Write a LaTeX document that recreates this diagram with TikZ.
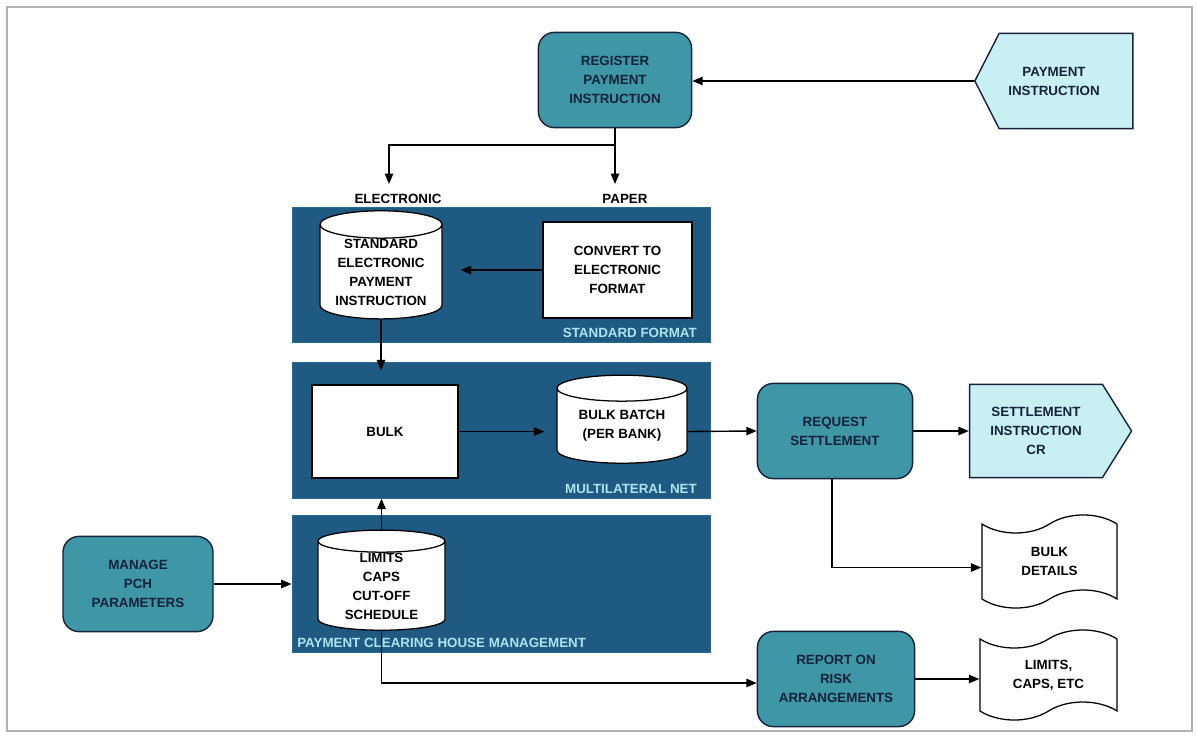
\documentclass[tikz,border=0pt]{standalone}
\usepackage{fontspec}
\setmainfont{Liberation Sans}
\usetikzlibrary{arrows.meta,positioning,calc,shapes.geometric,shapes.symbols}
\definecolor{proccolor}{RGB}{62,150,166}
\definecolor{extcolor}{RGB}{200,240,243}
\definecolor{panelcolor}{RGB}{30,90,130}
\definecolor{panellabel}{RGB}{170,228,238}
\definecolor{inkcolor}{RGB}{22,34,58}
\tikzset{
  lbl/.style={font=\bfseries\fontsize{9.5}{13.5}\selectfont, align=center, text=inkcolor},
  procbox/.style={lbl, rectangle, rounded corners=0.4cm, draw=inkcolor, line width=1pt, fill=proccolor, inner sep=0pt},
  extin/.style={lbl, signal, signal to=west, signal from=nowhere, signal pointer angle=126, draw=inkcolor, line width=1pt, fill=extcolor, inner sep=0pt},
  extout/.style={lbl, signal, signal to=east, signal from=nowhere, signal pointer angle=116, draw=inkcolor, line width=1pt, fill=extcolor, inner sep=0pt},
  panel/.style={fill=panelcolor, draw=panelcolor!70!proccolor, line width=0.6pt, inner sep=0pt},
  panelname/.style={font=\bfseries\fontsize{9.5}{11}\selectfont, text=panellabel, inner sep=0pt},
  store/.style={lbl, text=black, cylinder, shape border rotate=90, aspect=0.3, draw=black, line width=0.9pt, fill=white, inner sep=0pt},
  taskbox/.style={lbl, text=black, rectangle, draw=black, line width=0.9pt, fill=white, inner sep=0pt},
  report/.style={lbl, text=black, tape, draw=black, line width=0.9pt, fill=white, inner sep=0pt, tape bend height=0.45cm},
  conn/.style={-{Triangle[length=2.6mm,width=2.1mm]}, line width=1pt, black},
  plain/.style={line width=1pt, black},
}
\begin{document}
\begin{tikzpicture}[x=0.025cm, y=-0.025cm]
  \useasboundingbox (0,0) rectangle (1197,736);
  % Frame
  \draw[gray!60, line width=1.2pt] (7,7) rectangle (1192,731);
  % Panels
  \node[panel, minimum width=10.45cm, minimum height=3.375cm] (stdpanel) at (501,274.5) {};
  \node[panel, minimum width=10.45cm, minimum height=3.4cm] (netpanel) at (501,430) {};
  \node[panel, minimum width=10.45cm, minimum height=3.425cm] (pchpanel) at (501,583.5) {};
  \node[panelname, anchor=south east] at (697,338) {STANDARD FORMAT};
  \node[panelname, anchor=south east] at (697,494) {MULTILATERAL NET};
  \node[panelname, anchor=south west] at (297,648) {PAYMENT CLEARING HOUSE MANAGEMENT};
  % Processes
  \node[procbox, minimum width=3.83cm, minimum height=2.38cm] (register) at (615,80) {REGISTER\\PAYMENT\\INSTRUCTION};
  \node[procbox, minimum width=3.88cm, minimum height=2.38cm] (request) at (835,431) {REQUEST\\SETTLEMENT};
  \node[procbox, minimum width=3.93cm, minimum height=2.38cm] (riskrep) at (836,679) {REPORT ON\\RISK\\ARRANGEMENTS};
  \node[procbox, minimum width=3.75cm, minimum height=2.38cm] (manage) at (138,584) {MANAGE\\PCH\\PARAMETERS};
  % External flows
  \node[extin, minimum width=3.95cm, minimum height=2.38cm,
        label={[lbl, xshift=-0.3cm]center:{PAYMENT\\INSTRUCTION}}] (payin) at (1066,81) {};
  \node[extout, minimum width=4.05cm, minimum height=2.33cm] (settle) at (1036,431) {SETTLEMENT\\INSTRUCTION\\CR};
  % Inside the panels
  \node[store, minimum width=3.05cm, minimum height=2.125cm] (stdcyl) at (381,272) {STANDARD\\ELECTRONIC\\PAYMENT\\INSTRUCTION};
  \node[taskbox, minimum width=3.725cm, minimum height=2.4cm] (convert) at (617.5,270) {CONVERT TO\\ELECTRONIC\\FORMAT};
  \node[taskbox, minimum width=3.65cm, minimum height=2.325cm] (bulk) at (385,431.5) {BULK};
  \node[store, minimum width=3.25cm, minimum height=2.2cm] (batch) at (622,426) {BULK BATCH\\(PER BANK)};
  \node[store, minimum width=3.175cm, minimum height=2.175cm] (limcyl) at (381.5,586) {LIMITS\\CAPS\\CUT-OFF\\SCHEDULE};
  % Reports
  \node[report, minimum width=3.375cm, minimum height=2.325cm] (bdetail) at (1049.5,561.5) {BULK\\DETAILS};
  \node[report, minimum width=3.425cm, minimum height=2.25cm] (limdoc) at (1048.5,675) {LIMITS,\\CAPS, ETC};
  % Split by medium
  \node[lbl, text=black] (elec) at (398,199) {ELECTRONIC};
  \node[lbl, text=black] (paper) at (625,199) {PAPER};
  \coordinate (fork) at (615,145);
  \coordinate (eltip) at (389,184);
  \coordinate (patip) at (615,184);
  \draw[plain] (register.south) -- (fork);
  \draw[conn] (fork) -| (eltip);
  \draw[conn] (fork) -- (patip);
  % Flows
  \draw[conn] (payin.west) -- (register.east |- payin.west);
  \draw[conn, shorten >=0.45cm] (convert.west) -- (stdcyl.east |- convert.west);
  \draw[conn, shorten >=0.35cm] (stdcyl.south) -- (stdcyl.south |- bulk.north);
  \draw[conn, shorten >=0.5cm] (limcyl.north) -- (limcyl.north |- bulk.south);
  \draw[conn, shorten >=0.3cm] (bulk.east) -- (batch.west |- bulk.east);
  \draw[conn] (batch.east |- bulk.east) -- (request.west);
  \draw[conn] (request.east) -- (settle.west);
  \draw[conn] ([xshift=-0.075cm]request.south) |- ([yshift=-0.15cm]bdetail.west);
  \draw[conn] (manage.east) -- (manage.east -| pchpanel.west);
  \draw[conn] (limcyl.south) |- ([yshift=-0.1cm]riskrep.west);
  \draw[conn] (riskrep.east) -- (riskrep.east -| limdoc.west);
\end{tikzpicture}
\end{document}
